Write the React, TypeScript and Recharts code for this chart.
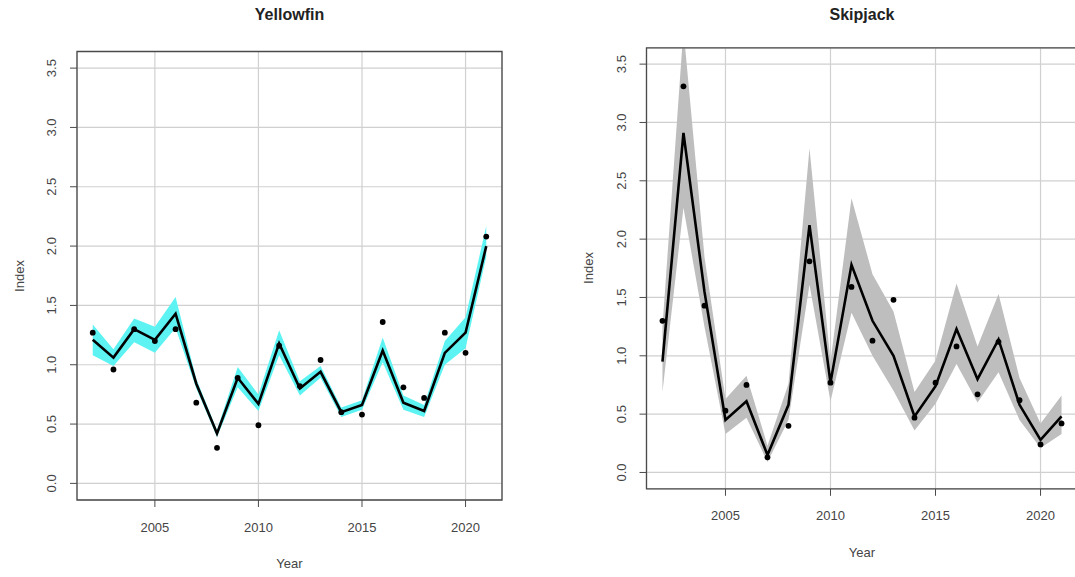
import {
  ComposedChart,
  Area,
  Line,
  XAxis,
  YAxis,
  CartesianGrid,
  ReferenceArea,
} from "recharts";

// survey years shared by both species
const years = [2002, 2003, 2004, 2005, 2006, 2007, 2008, 2009, 2010, 2011, 2012, 2013, 2014, 2015, 2016, 2017, 2018, 2019, 2020, 2021];

// Yellowfin: fitted index, observed index and confidence band
const yftFit = [1.21, 1.06, 1.30, 1.21, 1.43, 0.84, 0.42, 0.89, 0.67, 1.18, 0.80, 0.94, 0.60, 0.66, 1.12, 0.68, 0.61, 1.10, 1.27, 2.00];
const yftObs = [1.27, 0.96, 1.30, 1.20, 1.30, 0.68, 0.30, 0.89, 0.49, 1.16, 0.82, 1.04, 0.60, 0.58, 1.36, 0.81, 0.72, 1.27, 1.10, 2.08];
const yftLo = [1.08, 0.99, 1.19, 1.10, 1.31, 0.80, 0.39, 0.81, 0.61, 1.08, 0.74, 0.89, 0.56, 0.62, 1.02, 0.62, 0.56, 1.00, 1.14, 1.91];
const yftHi = [1.34, 1.13, 1.39, 1.32, 1.57, 0.88, 0.45, 0.98, 0.75, 1.29, 0.86, 0.99, 0.64, 0.70, 1.23, 0.74, 0.66, 1.20, 1.40, 2.17];

// Skipjack: fitted index, observed index and confidence band
const skjFit = [0.95, 2.91, 1.55, 0.45, 0.61, 0.15, 0.58, 2.12, 0.77, 1.78, 1.30, 1.00, 0.48, 0.74, 1.23, 0.80, 1.14, 0.58, 0.28, 0.48];
const skjObs = [1.30, 3.31, 1.43, 0.53, 0.75, 0.13, 0.40, 1.81, 0.77, 1.59, 1.13, 1.48, 0.47, 0.77, 1.08, 0.67, 1.12, 0.62, 0.24, 0.42];
const skjLo = [0.69, 2.27, 1.25, 0.33, 0.47, 0.09, 0.45, 1.61, 0.61, 1.37, 1.00, 0.70, 0.36, 0.59, 0.93, 0.60, 0.86, 0.45, 0.21, 0.33];
const skjHi = [1.25, 3.80, 1.85, 0.63, 0.83, 0.23, 0.76, 2.78, 0.95, 2.35, 1.70, 1.38, 0.69, 0.96, 1.62, 1.08, 1.53, 0.81, 0.42, 0.66];

const xTicks = [2005, 2010, 2015, 2020];
const yTicks = [0, 0.5, 1, 1.5, 2, 2.5, 3, 3.5];

// base-R style padding: 4% beyond the data range
const xDomain: [number, number] = [2001.24, 2021.76];
const yDomain: [number, number] = [-0.14, 3.64];

const FONT = "'Liberation Sans', Arial, sans-serif";
const AXIS_COL = "#4a4a4a";

function buildRows(fit: number[], obs: number[], lo: number[], hi: number[]) {
  return years.map((year, i) => ({ year, fit: fit[i], obs: obs[i], band: [lo[i], hi[i]] }));
}

const XTick = (props: any) => (
  <text x={props.x} y={props.y} textAnchor="middle" dominantBaseline="central" fontSize={13} fontFamily={FONT} fill="#444">
    {props.payload.value}
  </text>
);

const YTick = (props: any) => (
  <text
    x={props.x}
    y={props.y}
    dy="0.35em"
    textAnchor="middle"
    transform={`rotate(-90 ${props.x} ${props.y})`}
    fontSize={13}
    fontFamily={FONT}
    fill="#444"
  >
    {props.payload.value.toFixed(1)}
  </text>
);

interface PanelProps {
  title: string;
  rows: ReturnType<typeof buildRows>;
  bandColor: string;
  left: number;
  yAxisWidth: number;
  top: number;
  right: number;
  xAxisHeight: number;
}

function IndexPanel({ title, rows, bandColor, left, yAxisWidth, top, right, xAxisHeight }: PanelProps) {
  const width = 540;
  const height = 577;
  const plotLeft = yAxisWidth;
  const plotRight = width - right;
  const plotBottom = height - xAxisHeight;
  const cx = (plotLeft + plotRight) / 2;
  const cy = (top + plotBottom) / 2;
  const textBase = { position: "absolute" as const, fontFamily: FONT, whiteSpace: "nowrap" as const };

  return (
    <div style={{ position: "absolute", left, top: 0, width, height }}>
      <ComposedChart width={width} height={height} data={rows} margin={{ top, right, bottom: 0, left: 0 }}>
        <CartesianGrid stroke="#d0d0d0" strokeWidth={1.2} />
        <XAxis
          dataKey="year"
          type="number"
          domain={xDomain}
          ticks={xTicks}
          allowDataOverflow
          height={xAxisHeight}
          axisLine={false}
          tickLine={{ stroke: AXIS_COL }}
          tickSize={7}
          tickMargin={20}
          tick={XTick}
        />
        <YAxis
          type="number"
          domain={yDomain}
          ticks={yTicks}
          allowDataOverflow
          width={yAxisWidth}
          axisLine={false}
          tickLine={{ stroke: AXIS_COL }}
          tickSize={7}
          tickMargin={18.5}
          tick={YTick}
        />
        <Area dataKey="band" type="linear" fill={bandColor} fillOpacity={1} stroke="none" isAnimationActive={false} activeDot={false} />
        <Line dataKey="fit" type="linear" stroke="#000" strokeWidth={2.6} dot={false} activeDot={false} isAnimationActive={false} />
        <Line
          dataKey="obs"
          type="linear"
          stroke="none"
          strokeWidth={0}
          dot={{ r: 2.9, fill: "#000", stroke: "none" }}
          activeDot={false}
          isAnimationActive={false}
        />
        <ReferenceArea x1={xDomain[0]} x2={xDomain[1]} y1={yDomain[0]} y2={yDomain[1]} fill="none" stroke={AXIS_COL} strokeWidth={1.3} />
      </ComposedChart>
      <div style={{ ...textBase, left: cx, top: 15, transform: "translate(-50%, -50%)", fontSize: 16, fontWeight: "bold", color: "#222" }}>
        {title}
      </div>
      <div style={{ ...textBase, left: cx, top: plotBottom + 63, transform: "translate(-50%, -50%)", fontSize: 13, color: "#444" }}>
        Year
      </div>
      <div
        style={{
          ...textBase,
          left: plotLeft - 58.5,
          top: cy,
          transform: "translate(-50%, -50%) rotate(-90deg)",
          fontSize: 13,
          color: "#444",
        }}
      >
        Index
      </div>
    </div>
  );
}

export default function App() {
  const yft = buildRows(yftFit, yftObs, yftLo, yftHi);
  const skj = buildRows(skjFit, skjObs, skjLo, skjHi);

  return (
    <div style={{ position: "absolute", left: 0, top: 0, width: 1075, height: 577, overflow: "hidden", background: "#fff" }}>
      <IndexPanel title="Yellowfin" rows={yft} bandColor="#5ef3f3" left={0} yAxisWidth={77} top={51.5} right={38} xAxisHeight={77} />
      <IndexPanel title="Skipjack" rows={skj} bandColor="#bebebe" left={540} yAxisWidth={106.5} top={47.8} right={2.5} xAxisHeight={88.2} />
    </div>
  );
}
